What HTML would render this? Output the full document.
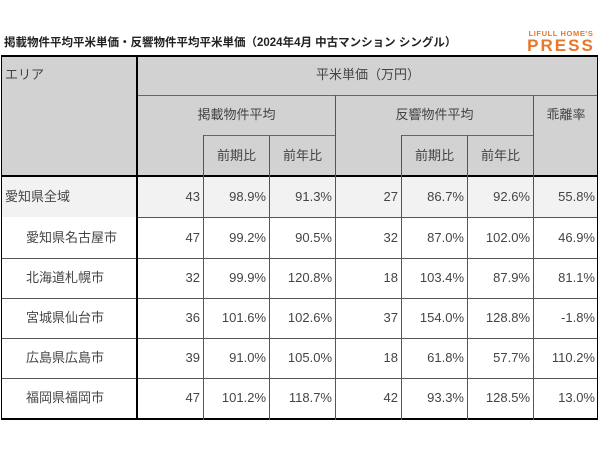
<!DOCTYPE html>
<html><head><meta charset="utf-8"><style>
body{margin:0;width:600px;height:450px;background:#fff;position:relative;overflow:hidden;font-family:"Liberation Sans","Noto Sans CJK JP",sans-serif;color:#444}
.a{position:absolute}
.t{position:absolute;font-size:13px;line-height:40px;white-space:nowrap}
.h{position:absolute;background:#000}
.v{position:absolute;background:#000}
</style></head><body>
<div class="a" style="left:4px;top:34px;font-size:11.5px;font-weight:bold;color:#222">掲載物件平均平米単価・反響物件平均平米単価（2024年4月 中古マンション シングル）</div>
<div class="a" style="left:525px;top:29px;width:72px;text-align:center;font-size:7.5px;font-weight:bold;color:#e8762b;letter-spacing:0.6px">LIFULL HOME'S</div>
<div class="a" style="left:523px;top:37px;width:76px;text-align:center;font-size:17px;font-weight:bold;color:#e8762b;letter-spacing:2px;line-height:17px">PRESS</div>

<div class="a" style="left:1px;top:55px;width:597px;height:121px;background:#d2d2d2"></div>
<div class="a" style="left:1px;top:176px;width:597px;height:41px;background:#f2f2f2"></div>

<div class="h" style="left:1px;top:55px;width:597px;height:2px"></div>
<div class="h" style="left:137px;top:95px;width:461px;height:1px;background:#666"></div>
<div class="h" style="left:203px;top:135px;width:132px;height:1px;background:#666"></div>
<div class="h" style="left:401px;top:135px;width:132px;height:1px;background:#666"></div>
<div class="h" style="left:1px;top:175px;width:597px;height:2px"></div>
<div class="h" style="left:137px;top:217px;width:461px;height:1px;background:#555"></div>
<div class="h" style="left:1px;top:258px;width:597px;height:1px;background:#555"></div>
<div class="h" style="left:1px;top:298px;width:597px;height:1px;background:#555"></div>
<div class="h" style="left:1px;top:338px;width:597px;height:1px;background:#555"></div>
<div class="h" style="left:1px;top:378px;width:597px;height:1px;background:#555"></div>
<div class="h" style="left:1px;top:418px;width:597px;height:2px"></div>

<div class="v" style="left:1px;top:55px;width:1px;height:365px"></div>
<div class="v" style="left:136px;top:55px;width:2px;height:365px"></div>
<div class="v" style="left:597px;top:55px;width:1px;height:365px"></div>
<div class="v" style="left:203px;top:135px;width:1px;height:285px;background:#555"></div>
<div class="v" style="left:269px;top:135px;width:1px;height:285px;background:#555"></div>
<div class="v" style="left:335px;top:95px;width:1px;height:325px;background:#555"></div>
<div class="v" style="left:401px;top:135px;width:1px;height:285px;background:#555"></div>
<div class="v" style="left:467px;top:135px;width:1px;height:285px;background:#555"></div>
<div class="v" style="left:533px;top:95px;width:1px;height:325px;background:#555"></div>

<div class="t" style="left:5px;top:55px">エリア</div>
<div class="t" style="left:138px;top:55px;width:460px;text-align:center">平米単価（万円）</div>
<div class="t" style="left:138px;top:95px;width:197px;text-align:center">掲載物件平均</div>
<div class="t" style="left:336px;top:95px;width:197px;text-align:center">反響物件平均</div>
<div class="t" style="left:534px;top:95px;width:64px;text-align:center">乖離率</div>
<div class="t" style="left:204px;top:136px;width:65px;text-align:center">前期比</div>
<div class="t" style="left:270px;top:136px;width:65px;text-align:center">前年比</div>
<div class="t" style="left:402px;top:136px;width:65px;text-align:center">前期比</div>
<div class="t" style="left:468px;top:136px;width:65px;text-align:center">前年比</div>

<div id="rows"></div>
<script>
var d=[["愛知県全域",3,"43","98.9%","91.3%","27","86.7%","92.6%","55.8%"],
["愛知県名古屋市",24,"47","99.2%","90.5%","32","87.0%","102.0%","46.9%"],
["北海道札幌市",24,"32","99.9%","120.8%","18","103.4%","87.9%","81.1%"],
["宮城県仙台市",24,"36","101.6%","102.6%","37","154.0%","128.8%","-1.8%"],
["広島県広島市",24,"39","91.0%","105.0%","18","61.8%","57.7%","110.2%"],
["福岡県福岡市",24,"47","101.2%","118.7%","42","93.3%","128.5%","13.0%"]];
var ys=[177,218,258,298,338,378],rs=[202,268,334,400,466,532,597],h="";
d.forEach(function(r,i){var y=ys[i];
h+='<div class="t" style="left:'+(r[1]+2)+'px;top:'+y+'px">'+r[0]+'</div>';
for(var j=0;j<7;j++)h+='<div class="t" style="left:'+(rs[j]-70)+'px;width:68px;text-align:right;top:'+y+'px">'+r[j+2]+'</div>';});
document.getElementById("rows").innerHTML=h;
</script>
</body></html>
